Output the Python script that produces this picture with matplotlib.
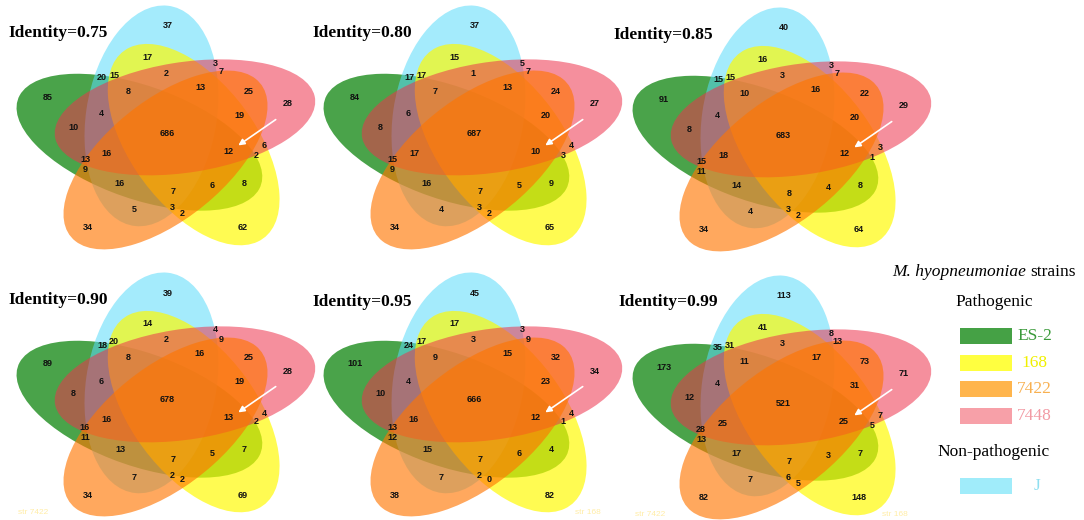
import numpy as np
import matplotlib
matplotlib.use("Agg")
import matplotlib.pyplot as plt
from matplotlib.patches import Ellipse, Rectangle
from matplotlib.transforms import Affine2D

# ---------------- data ----------------
identities = ["0.75", "0.80", "0.85", "0.90", "0.95", "0.99"]
strains = ["ES-2", "168", "7422", "7448", "J"]
groups = ["Pathogenic", "Pathogenic", "Pathogenic", "Pathogenic", "Non-pathogenic"]

# region counts, same region order in every diagram
counts_075 = [37, 17, 20, 15, 2, 3, 7, 8, 13, 25, 28, 85, 4, 19, 10, 686, 12, 6, 2, 16, 13, 9, 16, 7, 6, 8, 5, 3, 2, 34, 62]
counts_080 = [37, 15, 17, 17, 1, 5, 7, 7, 13, 24, 27, 84, 6, 20, 8, 687, 10, 4, 3, 17, 15, 9, 16, 7, 5, 9, 4, 3, 2, 34, 65]
counts_085 = [40, 16, 15, 15, 3, 3, 7, 10, 16, 22, 29, 91, 4, 20, 8, 683, 12, 3, 1, 18, 15, 11, 14, 8, 4, 8, 4, 3, 2, 34, 64]
counts_090 = [39, 14, 18, 20, 2, 4, 9, 8, 16, 25, 28, 89, 6, 19, 8, 678, 13, 4, 2, 16, 16, 11, 13, 7, 5, 7, 7, 2, 2, 34, 69]
counts_095 = [45, 17, 24, 17, 3, 3, 9, 9, 15, 32, 34, 101, 4, 23, 10, 666, 12, 4, 1, 16, 13, 12, 15, 7, 6, 4, 7, 2, 0, 38, 82]
counts_099 = [113, 41, 35, 31, 3, 8, 13, 11, 17, 73, 71, 173, 4, 31, 12, 521, 25, 7, 5, 25, 28, 13, 17, 7, 3, 7, 7, 6, 5, 82, 148]
all_counts = [counts_075, counts_080, counts_085, counts_090, counts_095, counts_099]

# ---------------- layout / style ----------------
W, H = 1084, 520
fig = plt.figure(figsize=(W / 100, H / 100), dpi=100)
ax = fig.add_axes([0, 0, 1, 1])
ax.set_xlim(0, W)
ax.set_ylim(H, 0)
ax.axis("off")

panel_offsets = [(0, 0), (307, 0), (616, 2), (0, 267), (307, 267), (616, 270)]
title_pos = [(8, 33), (312, 33), (613, 35), (8, 300), (312, 302), (618, 302)]

# region label anchor points (template, panel-local pixels)
label_pos = [(168, 26), (147, 57), (102, 78), (114, 75), (166, 73), (215, 63), (221, 72),
             (128, 91), (200, 87), (249, 91), (288, 104), (48, 97), (101, 114), (239, 115),
             (73, 127), (167, 133), (228, 151), (264, 146), (256, 155), (107, 153), (85, 160),
             (85, 170), (120, 183), (173, 192), (212, 186), (244, 183), (134, 210), (172, 208),
             (182, 213), (88, 228), (243, 228)]

# ellipse geometry (model frame), drawing order bottom -> top
ell_r, ell_a, ell_b = 24, 111, 55
ell_center_ang = {"ES-2": 195, "J": 123, "168": 339, "7448": 51, "7422": 267}
ell_twist = -40
draw_order = ["ES-2", "J", "168", "7448", "7422"]
fill = {"ES-2": ((0.05, 0.52, 0.05), 0.75),
        "J": ((0.35, 0.86, 0.98), 0.55),
        "168": ((1.0, 0.98, 0.0), 0.68),
        "7448": ((0.93, 0.20, 0.30), 0.55),
        "7422": ((1.0, 0.46, 0.0), 0.63)}
stretch_x = 1.19
center_local = (167, 136)

for p, (ident, counts) in enumerate(zip(identities, all_counts)):
    ox, oy = panel_offsets[p]
    tr = Affine2D().scale(stretch_x, -1).translate(ox + center_local[0], oy + center_local[1]) + ax.transData
    for k, s in enumerate(draw_order):
        phi = np.deg2rad(ell_center_ang[s])
        cx, cy = ell_r * np.cos(phi), ell_r * np.sin(phi)
        col, al = fill[s]
        e = Ellipse((cx, cy), 2 * ell_a, 2 * ell_b, angle=ell_center_ang[s] + ell_twist,
                    facecolor=col, alpha=al, edgecolor="none", transform=tr, zorder=1 + k)
        ax.add_patch(e)
    for (lx, ly), v in zip(label_pos, counts):
        ax.text(ox + lx, oy + ly, str(v), ha="center", va="center", fontsize=6.5,
                fontweight="bold", family="Liberation Sans", color="#111111", zorder=10)
    ax.annotate("", xy=(ox + 236, oy + 147), xytext=(ox + 278, oy + 118),
                arrowprops=dict(arrowstyle="-|>", color="white", lw=1.2, mutation_scale=9),
                zorder=11)
    tx, ty = title_pos[p]
    ax.text(tx, ty, f"Identity={ident}", ha="left", va="center", fontsize=12.5,
            fontweight="bold", family="Liberation Serif", color="black", zorder=12)

# faint scan artefacts
faint = (1.0, 0.93, 0.65)
for (fx, fy, ft) in [(33, 512, "str 7422"), (588, 512, "str 168"), (650, 514, "str 7422"), (895, 514, "str 168")]:
    ax.text(fx, fy, ft, ha="center", va="center", fontsize=6, color=faint, family="Liberation Sans")

# ---------------- legend ----------------
serif = "Liberation Serif"
t1 = ax.text(892, 272, "M. hyopneumoniae", ha="left", va="center", fontsize=12.5,
             fontstyle="italic", family=serif, color="black")
fig.canvas.draw()
bb = t1.get_window_extent(renderer=fig.canvas.get_renderer())
x_end = ax.transData.inverted().transform((bb.x1, bb.y0))[0]
ax.text(x_end + 4, 272, "strains", ha="left", va="center", fontsize=12.5, family=serif, color="black")
ax.text(994, 302, groups[0], ha="center", va="center", fontsize=12.5, family=serif, color="black")
ax.text(994, 452, groups[4], ha="center", va="center", fontsize=12.5, family=serif, color="black")

legend_colors = {"ES-2": "#45a145", "168": "#ffff40", "7422": "#ffb54d", "7448": "#f7a0a8", "J": "#a0ecfa"}
legend_text_colors = {"ES-2": "#3a9a3a", "168": "#f0f000", "7422": "#f8b050", "7448": "#f29aa4", "J": "#8fdff0"}
legend_y = {"ES-2": 336, "168": 363, "7422": 389, "7448": 416, "J": 486}
legend_tx = {"ES-2": 1035, "168": 1034, "7422": 1034, "7448": 1034, "J": 1037}
for s in strains:
    y = legend_y[s]
    ax.add_patch(Rectangle((960, y - 8), 52, 16, facecolor=legend_colors[s], edgecolor="none"))
    ax.text(legend_tx[s], y, s, ha="center", va="center", fontsize=12.5, family=serif,
            color=legend_text_colors[s])

fig.savefig("out.png", dpi=100)
